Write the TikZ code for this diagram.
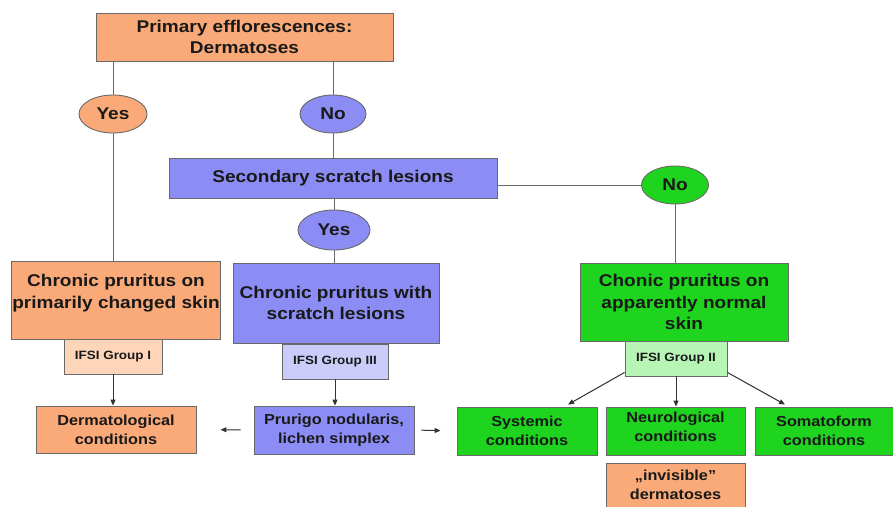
\documentclass[tikz,border=0pt]{standalone}
\usepackage{fontspec}
\setmainfont{Liberation Sans}[FakeStretch=1.12]
\usetikzlibrary{shapes.geometric,arrows.meta,calc}
\definecolor{corange}{RGB}{250,170,120}
\definecolor{clorange}{RGB}{253,214,185}
\definecolor{cblue}{RGB}{140,140,245}
\definecolor{clblue}{RGB}{204,204,250}
\definecolor{cgreen}{RGB}{30,212,30}
\definecolor{clgreen}{RGB}{182,245,182}
\definecolor{cborder}{RGB}{105,105,105}
\definecolor{ctext}{RGB}{25,25,25}
\tikzset{
  box/.style={draw=cborder, line width=0.9pt, rectangle, align=center, inner sep=1pt, text=ctext, font=\bfseries\fontsize{17}{21.5}\selectfont},
  smallbox/.style={box, font=\bfseries\fontsize{14.5}{19}\selectfont},
  tagbox/.style={box, font=\bfseries\fontsize{12}{14}\selectfont},
  oval/.style={draw=cborder, line width=0.9pt, ellipse, inner sep=0pt, text=ctext, font=\bfseries\fontsize{17}{20}\selectfont},
  conn/.style={draw=cborder, line width=1pt},
  arr/.style={conn, -{Triangle[length=6pt,width=5pt]}, draw=black!80, fill=black!80}
}
\begin{document}
\begin{tikzpicture}[x=1pt,y=-1pt]
\useasboundingbox (0,0) rectangle (893,506);
% nodes
\node[box, fill=corange, minimum width=297, minimum height=48] (top) at (244.5,37) {Primary efflorescences:\\Dermatoses};
\node[oval, fill=corange, minimum width=68, minimum height=38] (yes1) at (113,114) {Yes};
\node[oval, fill=cblue, minimum width=66, minimum height=38] (no1) at (333,114) {No};
\node[box, fill=cblue, minimum width=328, minimum height=40] (sec) at (333,178) {Secondary scratch lesions};
\node[oval, fill=cgreen, minimum width=67, minimum height=38] (gno) at (675,185) {No};
\node[oval, fill=cblue, minimum width=72, minimum height=40] (yes2) at (334,230) {Yes};
\node[box, fill=corange, minimum width=208, minimum height=78] (cp1) at (116,300) {\raisebox{7pt}[\height][\depth]{\begin{tabular}{@{}c@{}}Chronic pruritus on\\primarily changed skin\end{tabular}}};
\node[box, fill=cblue, minimum width=206, minimum height=80] (cp3) at (336,303) {Chronic pruritus with\\scratch lesions};
\node[box, fill=cgreen, minimum width=208, minimum height=78] (cp2) at (684,302) {Chonic pruritus on\\apparently normal\\skin};
\node[tagbox, fill=clorange, minimum width=98, minimum height=35] (ifsi1) at (113,356.5) {IFSI Group I};
\node[tagbox, fill=clblue, minimum width=106, minimum height=35] (ifsi3) at (335,361.5) {IFSI Group III};
\node[tagbox, fill=clgreen, minimum width=102, minimum height=35] (ifsi2) at (676,358.5) {IFSI Group II};
\node[smallbox, fill=corange, minimum width=160, minimum height=47] (derm) at (116,429.5) {Dermatological\\conditions};
\node[smallbox, fill=cblue, minimum width=160, minimum height=48] (prur) at (334,430) {Prurigo nodularis,\\lichen simplex};
\node[smallbox, fill=cgreen, minimum width=140, minimum height=48] (sys) at (527,431) {Systemic\\conditions};
\node[smallbox, fill=cgreen, minimum width=139, minimum height=48] (neur) at (675.5,431) {\raisebox{2.5pt}[\height][\depth]{\begin{tabular}{@{}c@{}}Neurological\\conditions\end{tabular}}};
\node[smallbox, fill=cgreen, minimum width=138, minimum height=48] (soma) at (824,431) {Somatoform\\conditions};
\node[smallbox, fill=corange, minimum width=139, minimum height=44] (inv) at (675.5,485) {,,invisible''\\dermatoses};
% connectors
\draw[conn] (top.south -| yes1.north) -- (yes1.north);
\draw[conn] (top.south -| no1.north) -- (no1.north);
\draw[conn] (no1.south) -- (no1.south |- sec.north);
\draw[conn] (sec.south -| yes2.north) -- (yes2.north);
\draw[conn] (yes2.south) -- (yes2.south |- cp3.north);
\draw[conn] (yes1.south) -- (yes1.south |- cp1.north);
\draw[conn] (gno.west -| sec.east) -- (gno.west);
\draw[conn] (gno.south) -- (gno.south |- cp2.north);
\draw[arr] (ifsi1.south) -- (ifsi1.south |- derm.north);
\draw[arr] (ifsi3.south) -- (ifsi3.south |- prur.north);
\draw[arr] (ifsi2.south) -- (ifsi2.south |- neur.north);
\draw[arr] ($(ifsi2.south west)+(0,-4)$) -- ($(sys.north)+(41,-2)$);
\draw[arr] ($(ifsi2.south east)+(0,-4)$) -- ($(soma.north)+(-39,-2)$);
\draw[arr, shorten <=13pt, shorten >=24pt] (prur.west) -- (derm.east);
\draw[arr, shorten <=7pt, shorten >=16pt] (prur.east) -- (sys.west);
\end{tikzpicture}
\end{document}
